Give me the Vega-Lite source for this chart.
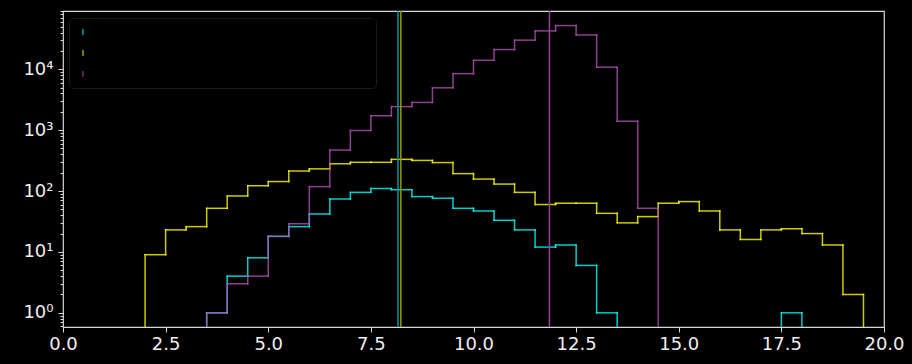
{
  "$schema": "https://vega.github.io/schema/vega-lite/v6.json",
  "width": 821,
  "height": 316,
  "autosize": {"type": "none"},
  "padding": {"left": 63, "top": 11, "right": 28, "bottom": 37},
  "background": "#000000",
  "config": {
    "view": {"stroke": "#d8d8d8", "strokeWidth": 1.2},
    "font": "DejaVu Sans",
    "axis": {
      "domain": false,
      "grid": false,
      "title": null,
      "tickColor": "#d8d8d8",
      "tickWidth": 1,
      "labelColor": "#eeeeee",
      "labelFont": "DejaVu Sans",
      "labelFontSize": 18
    }
  },
  "datasets": {
    "hist": [
      {"series": "Sample A", "bin_start": 3.5, "bin_end": 4.0, "count": 1},
      {"series": "Sample A", "bin_start": 4.0, "bin_end": 4.5, "count": 4},
      {"series": "Sample A", "bin_start": 4.5, "bin_end": 5.0, "count": 8},
      {"series": "Sample A", "bin_start": 5.0, "bin_end": 5.5, "count": 18},
      {"series": "Sample A", "bin_start": 5.5, "bin_end": 6.0, "count": 26},
      {"series": "Sample A", "bin_start": 6.0, "bin_end": 6.5, "count": 42},
      {"series": "Sample A", "bin_start": 6.5, "bin_end": 7.0, "count": 74},
      {"series": "Sample A", "bin_start": 7.0, "bin_end": 7.5, "count": 95},
      {"series": "Sample A", "bin_start": 7.5, "bin_end": 8.0, "count": 110},
      {"series": "Sample A", "bin_start": 8.0, "bin_end": 8.5, "count": 105},
      {"series": "Sample A", "bin_start": 8.5, "bin_end": 9.0, "count": 81},
      {"series": "Sample A", "bin_start": 9.0, "bin_end": 9.5, "count": 76},
      {"series": "Sample A", "bin_start": 9.5, "bin_end": 10.0, "count": 52},
      {"series": "Sample A", "bin_start": 10.0, "bin_end": 10.5, "count": 47},
      {"series": "Sample A", "bin_start": 10.5, "bin_end": 11.0, "count": 33},
      {"series": "Sample A", "bin_start": 11.0, "bin_end": 11.5, "count": 23},
      {"series": "Sample A", "bin_start": 11.5, "bin_end": 12.0, "count": 12},
      {"series": "Sample A", "bin_start": 12.0, "bin_end": 12.5, "count": 13},
      {"series": "Sample A", "bin_start": 12.5, "bin_end": 13.0, "count": 6},
      {"series": "Sample A", "bin_start": 13.0, "bin_end": 13.5, "count": 1},
      {"series": "Sample A", "bin_start": 17.5, "bin_end": 18.0, "count": 1},

      {"series": "Sample B", "bin_start": 2.0, "bin_end": 2.5, "count": 9},
      {"series": "Sample B", "bin_start": 2.5, "bin_end": 3.0, "count": 23},
      {"series": "Sample B", "bin_start": 3.0, "bin_end": 3.5, "count": 26},
      {"series": "Sample B", "bin_start": 3.5, "bin_end": 4.0, "count": 52},
      {"series": "Sample B", "bin_start": 4.0, "bin_end": 4.5, "count": 83},
      {"series": "Sample B", "bin_start": 4.5, "bin_end": 5.0, "count": 122},
      {"series": "Sample B", "bin_start": 5.0, "bin_end": 5.5, "count": 143},
      {"series": "Sample B", "bin_start": 5.5, "bin_end": 6.0, "count": 213},
      {"series": "Sample B", "bin_start": 6.0, "bin_end": 6.5, "count": 231},
      {"series": "Sample B", "bin_start": 6.5, "bin_end": 7.0, "count": 280},
      {"series": "Sample B", "bin_start": 7.0, "bin_end": 7.5, "count": 296},
      {"series": "Sample B", "bin_start": 7.5, "bin_end": 8.0, "count": 296},
      {"series": "Sample B", "bin_start": 8.0, "bin_end": 8.5, "count": 331},
      {"series": "Sample B", "bin_start": 8.5, "bin_end": 9.0, "count": 318},
      {"series": "Sample B", "bin_start": 9.0, "bin_end": 9.5, "count": 293},
      {"series": "Sample B", "bin_start": 9.5, "bin_end": 10.0, "count": 193},
      {"series": "Sample B", "bin_start": 10.0, "bin_end": 10.5, "count": 157},
      {"series": "Sample B", "bin_start": 10.5, "bin_end": 11.0, "count": 130},
      {"series": "Sample B", "bin_start": 11.0, "bin_end": 11.5, "count": 95},
      {"series": "Sample B", "bin_start": 11.5, "bin_end": 12.0, "count": 60},
      {"series": "Sample B", "bin_start": 12.0, "bin_end": 12.5, "count": 63},
      {"series": "Sample B", "bin_start": 12.5, "bin_end": 13.0, "count": 63},
      {"series": "Sample B", "bin_start": 13.0, "bin_end": 13.5, "count": 43},
      {"series": "Sample B", "bin_start": 13.5, "bin_end": 14.0, "count": 30},
      {"series": "Sample B", "bin_start": 14.0, "bin_end": 14.5, "count": 38},
      {"series": "Sample B", "bin_start": 14.5, "bin_end": 15.0, "count": 63},
      {"series": "Sample B", "bin_start": 15.0, "bin_end": 15.5, "count": 67},
      {"series": "Sample B", "bin_start": 15.5, "bin_end": 16.0, "count": 47},
      {"series": "Sample B", "bin_start": 16.0, "bin_end": 16.5, "count": 23},
      {"series": "Sample B", "bin_start": 16.5, "bin_end": 17.0, "count": 16},
      {"series": "Sample B", "bin_start": 17.0, "bin_end": 17.5, "count": 23},
      {"series": "Sample B", "bin_start": 17.5, "bin_end": 18.0, "count": 24},
      {"series": "Sample B", "bin_start": 18.0, "bin_end": 18.5, "count": 20},
      {"series": "Sample B", "bin_start": 18.5, "bin_end": 19.0, "count": 13},
      {"series": "Sample B", "bin_start": 19.0, "bin_end": 19.5, "count": 2},

      {"series": "Sample C", "bin_start": 3.5, "bin_end": 4.0, "count": 1},
      {"series": "Sample C", "bin_start": 4.0, "bin_end": 4.5, "count": 3},
      {"series": "Sample C", "bin_start": 4.5, "bin_end": 5.0, "count": 4},
      {"series": "Sample C", "bin_start": 5.0, "bin_end": 5.5, "count": 18},
      {"series": "Sample C", "bin_start": 5.5, "bin_end": 6.0, "count": 29},
      {"series": "Sample C", "bin_start": 6.0, "bin_end": 6.5, "count": 118},
      {"series": "Sample C", "bin_start": 6.5, "bin_end": 7.0, "count": 470},
      {"series": "Sample C", "bin_start": 7.0, "bin_end": 7.5, "count": 985},
      {"series": "Sample C", "bin_start": 7.5, "bin_end": 8.0, "count": 1720},
      {"series": "Sample C", "bin_start": 8.0, "bin_end": 8.5, "count": 2430},
      {"series": "Sample C", "bin_start": 8.5, "bin_end": 9.0, "count": 2850},
      {"series": "Sample C", "bin_start": 9.0, "bin_end": 9.5, "count": 4950},
      {"series": "Sample C", "bin_start": 9.5, "bin_end": 10.0, "count": 8450},
      {"series": "Sample C", "bin_start": 10.0, "bin_end": 10.5, "count": 14000},
      {"series": "Sample C", "bin_start": 10.5, "bin_end": 11.0, "count": 21000},
      {"series": "Sample C", "bin_start": 11.0, "bin_end": 11.5, "count": 30000},
      {"series": "Sample C", "bin_start": 11.5, "bin_end": 12.0, "count": 42500},
      {"series": "Sample C", "bin_start": 12.0, "bin_end": 12.5, "count": 52000},
      {"series": "Sample C", "bin_start": 12.5, "bin_end": 13.0, "count": 36500},
      {"series": "Sample C", "bin_start": 13.0, "bin_end": 13.5, "count": 10800},
      {"series": "Sample C", "bin_start": 13.5, "bin_end": 14.0, "count": 1400},
      {"series": "Sample C", "bin_start": 14.0, "bin_end": 14.5, "count": 52}
    ],
    "means": [
      {"series": "Sample A", "mean": 8.16},
      {"series": "Sample B", "mean": 8.23},
      {"series": "Sample C", "mean": 11.85}
    ]
  },
  "resolve": {"axis": {"y": "independent"}},
  "layer": [
    {
      "data": {"name": "hist"},
      "mark": {"type": "rule", "strokeWidth": 1.5, "strokeCap": "square", "opacity": 0.8, "clip": true},
      "encoding": {
        "x": {
          "field": "bin_start",
          "type": "quantitative",
          "scale": {"domain": [0, 20], "nice": false, "zero": false},
          "axis": {"values": [0, 2.5, 5, 7.5, 10, 12.5, 15, 17.5, 20], "format": ".1f", "tickSize": 5, "labelPadding": 3, "labelFlush": false}
        },
        "x2": {"field": "bin_end"},
        "y": {
          "field": "count",
          "type": "quantitative",
          "scale": {"type": "log", "domain": [0.585, 90300], "nice": false},
          "axis": {
            "orient": "left",
            "values": [1, 10, 100, 1000, 10000],
            "labelExpr": "'10' + ['⁰','¹','²','³','⁴','⁵'][round(log(datum.value) / LN10)]",
            "tickSize": 5,
            "labelPadding": 5
          }
        },
        "color": {
          "field": "series",
          "type": "nominal",
          "scale": {"domain": ["Sample A", "Sample B", "Sample C"], "range": ["#00ffff", "#ffff00", "#b050b0"]},
          "legend": {
            "orient": "none",
            "legendX": 6,
            "legendY": 7,
            "title": null,
            "symbolType": "M0,-1L0,1",
            "symbolSize": 36,
            "symbolStrokeWidth": 1.2,
            "symbolOpacity": 0.13,
            "labelColor": "#000000",
            "labelFontSize": 18,
            "labelOffset": 193,
            "padding": 5,
            "rowPadding": 3,
            "strokeColor": "#191919",
            "fillColor": "#000000",
            "cornerRadius": 4
          }
        }
      }
    },
    {
      "data": {"name": "hist"},
      "transform": [
        {
          "window": [
            {"op": "lag", "field": "count", "as": "prev_count"},
            {"op": "lag", "field": "bin_end", "as": "prev_end"}
          ],
          "groupby": ["series"],
          "sort": [{"field": "bin_start"}]
        },
        {"calculate": "datum.prev_end === datum.bin_start ? datum.prev_count : 0.1", "as": "from_count"}
      ],
      "mark": {"type": "rule", "strokeWidth": 1.5, "strokeCap": "square", "opacity": 0.8, "clip": true},
      "encoding": {
        "x": {"field": "bin_start", "type": "quantitative"},
        "y": {
          "field": "count",
          "type": "quantitative",
          "axis": {
            "orient": "left",
            "values": [0.6, 0.7, 0.8, 0.9, 2, 3, 4, 5, 6, 7, 8, 9, 20, 30, 40, 50, 60, 70, 80, 90, 200, 300, 400, 500, 600, 700, 800, 900, 2000, 3000, 4000, 5000, 6000, 7000, 8000, 9000, 20000, 30000, 40000, 50000, 60000, 70000, 80000, 90000],
            "labels": false,
            "tickSize": 3
          }
        },
        "y2": {"field": "from_count"},
        "color": {"field": "series", "type": "nominal"}
      }
    },
    {
      "data": {"name": "hist"},
      "transform": [
        {
          "window": [{"op": "lead", "field": "bin_start", "as": "next_start"}],
          "groupby": ["series"],
          "sort": [{"field": "bin_start"}]
        },
        {"filter": "datum.next_start !== datum.bin_end"}
      ],
      "mark": {"type": "rule", "strokeWidth": 1.5, "strokeCap": "square", "opacity": 0.8, "clip": true},
      "encoding": {
        "x": {"field": "bin_end", "type": "quantitative"},
        "y": {"field": "count", "type": "quantitative", "axis": null},
        "y2": {"datum": 0.1},
        "color": {"field": "series", "type": "nominal"}
      }
    },
    {
      "data": {"name": "means"},
      "mark": {"type": "rule", "strokeWidth": 1.5},
      "encoding": {
        "x": {"field": "mean", "type": "quantitative"},
        "stroke": {
          "field": "series",
          "type": "nominal",
          "scale": {"domain": ["Sample A", "Sample B", "Sample C"], "range": ["#009999", "#999900", "#9a429a"]},
          "legend": null
        }
      }
    }
  ]
}
